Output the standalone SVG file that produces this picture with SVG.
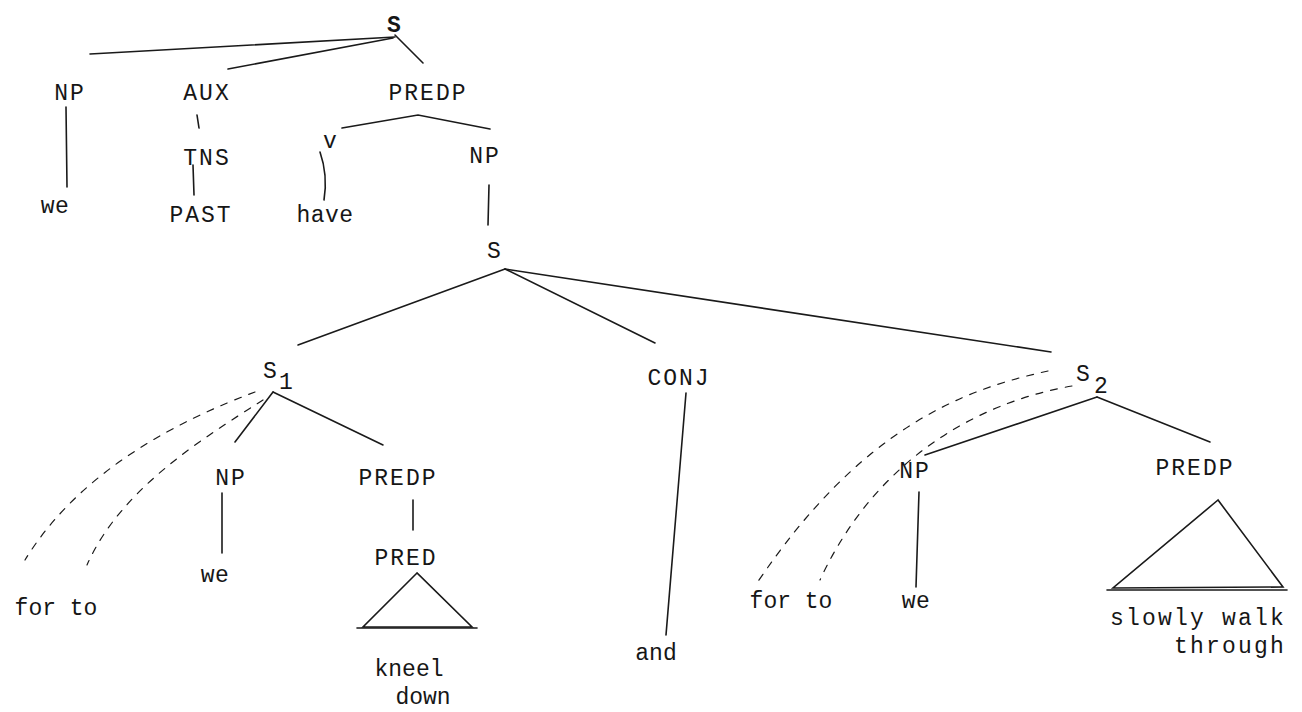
<svg xmlns="http://www.w3.org/2000/svg" width="1302" height="712" viewBox="0 0 1302 712">
<style>
text{font-family:"Liberation Mono","DejaVu Sans Mono",monospace;font-size:23px;fill:#161616;text-anchor:middle}
.c{letter-spacing:2px}
.l{letter-spacing:0.5px}
.w{letter-spacing:2.2px}
.e line,.e path,.e polyline{stroke:#1a1a1a;stroke-width:1.6;fill:none;stroke-linecap:round}
.e .d{stroke-width:1.2;stroke-dasharray:7 8}
</style>
<rect width="1302" height="712" fill="#fff"/>
<g id="connectors" class="e">
<line x1="395" y1="37" x2="90" y2="54"/>
<line x1="393" y1="38" x2="228" y2="69"/>
<line x1="395" y1="35" x2="423" y2="63"/>
<line x1="66" y1="107" x2="67" y2="187"/>
<line x1="197" y1="115" x2="199" y2="128"/>
<line x1="193" y1="165" x2="194" y2="195"/>
<polyline points="342,128 418,115 490,129"/>
<path d="M320,152 Q328,175 324,200"/>
<line x1="489" y1="185" x2="488" y2="225"/>
<line x1="505" y1="269" x2="298" y2="345"/>
<line x1="505" y1="269" x2="655" y2="343"/>
<line x1="505" y1="269" x2="1051" y2="352"/>
<line x1="273" y1="392" x2="235" y2="442"/>
<line x1="273" y1="392" x2="383" y2="445"/>
<path class="d" d="M255,392 C180,420 80,470 25,560"/>
<path class="d" d="M263,400 C200,440 120,490 87,565"/>
<line x1="222" y1="493" x2="222" y2="553"/>
<line x1="413" y1="500" x2="413" y2="530"/>
<polygon points="417,573 363,627 472,627" fill="none" stroke="#1a1a1a" stroke-width="1.6"/>
<line x1="357" y1="628" x2="477" y2="628"/>
<line x1="686" y1="393" x2="666" y2="635"/>
<line x1="1097" y1="397" x2="925" y2="455"/>
<line x1="1097" y1="397" x2="1210" y2="442"/>
<path class="d" d="M1048,371 C960,390 860,430 757,583"/>
<path class="d" d="M1072,386 C990,400 880,450 820,580"/>
<line x1="919" y1="492" x2="916" y2="587"/>
<polygon points="1218,500 1113,588 1283,587" fill="none" stroke="#1a1a1a" stroke-width="1.6"/>
<line x1="1107" y1="590" x2="1287" y2="590"/>
</g>
<g id="n-S-top"><text x="394" y="32" style="font-weight:bold">S</text></g>
<g id="n-NP-1"><text class="c" x="70" y="100">NP</text></g>
<g id="n-AUX"><text class="c" x="207" y="100">AUX</text></g>
<g id="n-PREDP-1"><text class="c" x="428" y="100">PREDP</text></g>
<g id="n-we-1"><text class="l" x="55" y="213">we</text></g>
<g id="n-TNS"><text class="c" x="207" y="165">TNS</text></g>
<g id="n-PAST"><text class="c" x="201" y="222">PAST</text></g>
<g id="n-v"><text x="330" y="148">v</text></g>
<g id="n-have"><text class="l" x="325" y="222">have</text></g>
<g id="n-NP-2"><text class="c" x="485" y="163">NP</text></g>
<g id="n-S-mid"><text x="494" y="258">S</text></g>
<g id="n-S1"><text x="270" y="378">S</text><text x="286" y="389">1</text></g>
<g id="n-CONJ"><text class="c" x="679" y="385">CONJ</text></g>
<g id="n-S2"><text x="1083" y="381">S</text><text x="1101" y="393">2</text></g>
<g id="n-fortoa"><text x="56" y="615">for to</text></g>
<g id="n-NP-3"><text class="c" x="231" y="485">NP</text></g>
<g id="n-we-2"><text class="l" x="215" y="582">we</text></g>
<g id="n-PREDP-2"><text class="c" x="398" y="485">PREDP</text></g>
<g id="n-PRED"><text class="c" x="406" y="565">PRED</text></g>
<g id="n-kneel"><text x="409" y="676">kneel</text></g>
<g id="n-down"><text x="423" y="704">down</text></g>
<g id="n-and"><text x="656" y="660">and</text></g>
<g id="n-fortob"><text x="791" y="608">for to</text></g>
<g id="n-NP-4"><text class="c" x="915" y="478">NP</text></g>
<g id="n-we-3"><text class="l" x="916" y="608">we</text></g>
<g id="n-PREDP-3"><text class="c" x="1195" y="475">PREDP</text></g>
<g id="n-slowly"><text class="w" x="1198" y="625">slowly walk</text></g>
<g id="n-through"><text class="w" x="1230" y="653">through</text></g>
</svg>
